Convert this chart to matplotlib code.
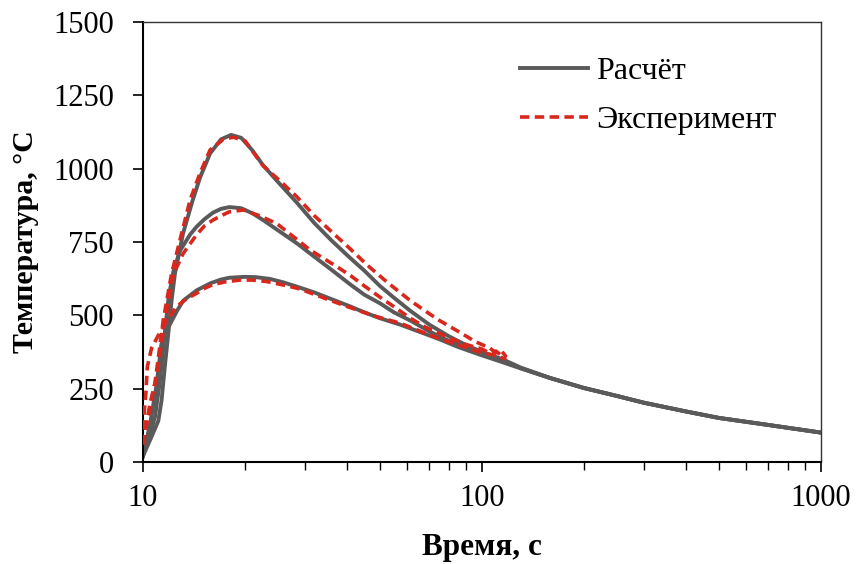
import matplotlib
matplotlib.use("Agg")
import matplotlib.pyplot as plt
from matplotlib.ticker import FixedLocator, LogLocator, NullFormatter

plt.rcParams['font.family'] = ['Liberation Serif', 'DejaVu Serif']

# calculated curves (time, s / temperature, C)
t_calc1 = [10, 10.5, 11.1, 11.35, 11.6, 11.88, 12.15, 12.43, 13.13, 14, 14.74, 15.78, 17, 18.2,
           19.5, 21, 22.6, 25, 28.4, 32, 36, 40.9, 45, 50, 55, 61.5, 70, 80, 90, 100, 115,
           130, 159, 200, 250, 300, 400, 500, 700, 1000]
T_calc1 = [20, 75, 140, 211, 325, 439, 552, 643, 779, 890, 970, 1052, 1100, 1115,
           1105, 1063, 1012, 955, 885, 815, 755, 695, 652, 600, 560, 515, 468, 428, 398, 375, 350,
           322, 286, 252, 225, 202, 172, 150, 126, 100]

t_calc2 = [10, 10.5, 10.85, 11.2, 11.6, 11.9, 12.3, 12.86, 13.77, 14.4, 15.2, 16.1, 17, 18,
           19.5, 21, 22.6, 25, 28.4, 32, 36, 40.9, 45, 50, 55, 61.5, 70, 80, 90, 100, 115,
           130, 159, 200, 250, 300, 400, 500, 700, 1000]
T_calc2 = [20, 95, 154, 268, 439, 560, 650, 720, 775, 802, 828, 850, 863, 869,
           865, 848, 825, 790, 746, 700, 655, 605, 570, 541, 510, 482, 445, 412, 388, 370, 345,
           320, 286, 252, 225, 202, 172, 150, 126, 100]

t_calc3 = [10, 10.5, 10.96, 11.33, 11.7, 12.02, 12.6, 13.15, 14.4, 15.8, 17, 18, 20, 21.5,
           23.7, 26, 28.4, 32, 36, 40.9, 45, 50, 57.4, 65, 75, 85, 99, 115, 130, 159, 200,
           250, 300, 400, 500, 700, 1000]
T_calc3 = [20, 130, 260, 400, 450, 470, 515, 550, 585, 609, 622, 628, 631, 630,
           624, 612, 598, 578, 555, 530, 510, 490, 468, 445, 418, 392, 365, 340, 319, 286, 252,
           225, 202, 172, 150, 126, 100]

# experiment
t_exp1 = [10, 10.2, 10.5, 10.85, 11.48, 12.15, 12.86, 13.77, 14.74, 15.78, 17.27, 18.5,
          20, 22.6, 25, 28.4, 32, 36, 41, 46, 51.9, 57, 61.5, 70, 75, 86.6, 95, 100, 105,
          110, 114, 118]
T_exp1 = [60, 120, 200, 269, 484, 643, 757, 893, 985, 1064, 1100, 1107,
          1095, 1010, 965, 905, 840, 785, 725, 670, 618, 580, 550, 505, 482, 440, 412, 400, 390,
          372, 380, 358]

t_exp2 = [10, 10.5, 11, 11.5, 12.3, 13.15, 14.4, 15.2, 16.1, 17.2, 18, 19.8, 22, 24.8, 28,
          31.1, 34, 37.3, 41, 45, 50, 54.9, 61.5, 68, 75, 82, 90, 100, 105, 110, 115, 118]
T_exp2 = [60, 190, 300, 450, 640, 711, 775, 805, 825, 842, 853, 859, 840, 813, 765,
          723, 695, 666, 635, 600, 562, 530, 490, 460, 438, 418, 400, 385, 372, 378, 360, 355]

t_exp3 = [10, 10.1, 10.2, 10.3, 10.6, 11.2, 11.9, 12.57, 13.4, 14.4, 15.2, 16.1, 17.5, 19.3,
          21, 23.2, 26, 29, 34, 40, 48, 57.4, 66, 75, 90, 100, 108, 113, 118]
T_exp3 = [60, 177, 235, 324, 388, 440, 490, 530, 555, 575, 592, 605, 614, 620,
          620, 615, 603, 590, 560, 530, 498, 473, 445, 420, 390, 372, 365, 358, 350]

gray = '#5a5a5a'
red = '#d8281d'
dash = (0, (2.6, 1.5))

fig = plt.figure(figsize=(8.68, 5.64), dpi=100)
ax = fig.add_axes([0.1647, 0.181, 0.781, 0.780])

ax.plot(t_calc1, T_calc1, color=gray, lw=2.8, label='Расчёт', zorder=2)
ax.plot(t_calc2, T_calc2, color=gray, lw=2.8, zorder=2)
ax.plot(t_calc3, T_calc3, color=gray, lw=2.8, zorder=2)
ax.plot(t_exp1, T_exp1, color=red, lw=2.6, ls=dash, label='Эксперимент', zorder=3)
ax.plot(t_exp2, T_exp2, color=red, lw=2.6, ls=dash, zorder=3)
ax.plot(t_exp3, T_exp3, color=red, lw=2.6, ls=dash, zorder=3)

ax.set_xscale('log')
ax.set_xlim(10, 1000)
ax.set_ylim(0, 1500)
ax.xaxis.set_major_locator(FixedLocator([10, 100, 1000]))
ax.set_xticklabels(['10', '100', '1000'])
ax.xaxis.set_minor_locator(LogLocator(base=10, subs=range(2, 10)))
ax.xaxis.set_minor_formatter(NullFormatter())
ax.set_yticks(range(0, 1501, 250))

ax.tick_params(axis='both', which='major', direction='out', length=7, width=1.2,
               labelsize=22)
ax.tick_params(axis='y', which='major', pad=14)
ax.tick_params(axis='x', which='major', pad=9)
ax.tick_params(axis='x', which='minor', direction='out', length=6, width=1.0)

for s in ['left', 'bottom']:
    ax.spines[s].set_linewidth(1.5)
    ax.spines[s].set_color('black')
for s in ['top', 'right']:
    ax.spines[s].set_linewidth(1.0)
    ax.spines[s].set_color('#333333')

ax.set_xlabel('Время, с', fontsize=22.5, fontweight='bold', labelpad=14)
ax.set_ylabel('Температура, °С', fontsize=21.5, fontweight='bold', labelpad=10)

ax.legend(loc='upper right', bbox_to_anchor=(0.977, 0.987), frameon=False, fontsize=23,
          handlelength=2.15, handletextpad=0.25, labelspacing=0.62)

fig.savefig('out.png', dpi=100)
